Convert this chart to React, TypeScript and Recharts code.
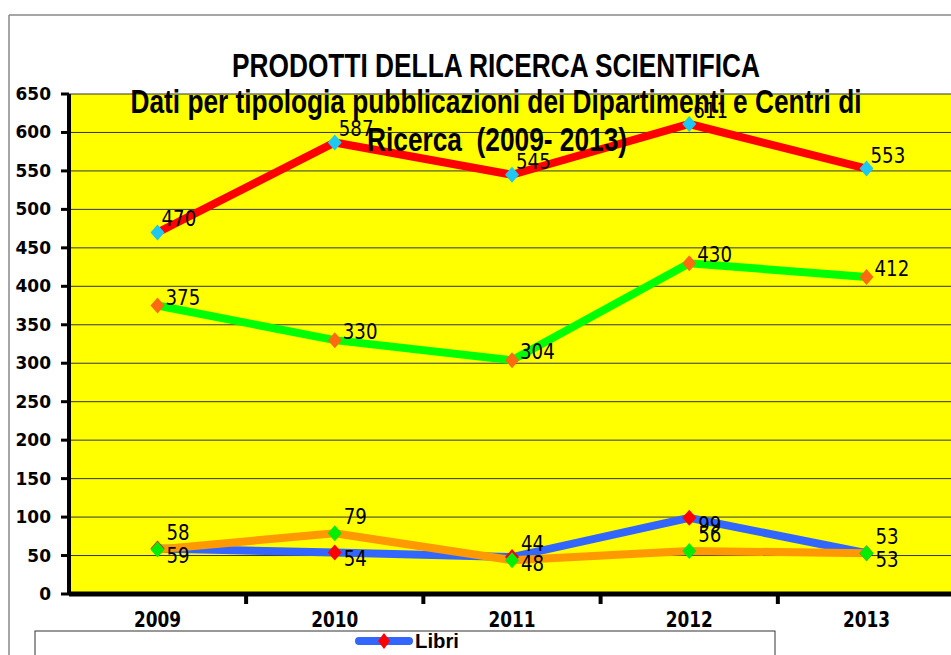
import React from 'react';
import { LineChart, Line, XAxis, YAxis, CartesianGrid, Tooltip, LabelList } from 'recharts';

const years = ['2009', '2010', '2011', '2012', '2013'];
const articoli = [470, 587, 545, 611, 553];
const contributi = [375, 330, 304, 430, 412];
const libri = [59, 54, 48, 99, 53];
const atti = [58, 79, 44, 56, 53];
const yTicks = [0, 50, 100, 150, 200, 250, 300, 350, 400, 450, 500, 550, 600, 650];

const data = years.map((year, i) => ({
  year,
  articoli: articoli[i],
  contributi: contributi[i],
  libri: libri[i],
  atti: atti[i],
}));

const HALF_STEP = 88.6;

const diamond = (fill: string) => (props: any) => {
  const { cx, cy, index } = props;
  if (cx == null || cy == null) return <g key={index} />;
  return (
    <polygon
      key={index}
      points={`${cx},${cy - 8} ${cx + 7},${cy} ${cx},${cy + 8} ${cx - 7},${cy}`}
      fill={fill}
    />
  );
};

const valueLabel = (dx: number, dy: number) => (props: any) => {
  const x = props.x ?? props.viewBox?.x;
  const y = props.y ?? props.viewBox?.y;
  if (x == null || y == null) return null;
  return (
    <text
      key={props.index}
      x={x + dx}
      y={y + dy + 8}
      fontSize={22}
      fontFamily="DejaVu Sans Condensed"
      fill="#000"
      transform={`translate(${x + dx} ${y + dy}) scale(0.92 1) translate(${-(x + dx)} ${-(y + dy)})`}
    >
      {props.value}
    </text>
  );
};

const YearTick = (props: any) => {
  const { x, y, payload, index } = props;
  return (
    <g>
      <text
        x={x}
        y={y + 33}
        textAnchor="middle"
        fontFamily="DejaVu Sans Condensed"
        fontWeight="bold"
        fontSize={22}
        textLength={47}
        lengthAdjust="spacingAndGlyphs"
        fill="#000"
      >
        {payload.value}
      </text>
      {index < years.length - 1 && (
        <line x1={x + HALF_STEP} x2={x + HALF_STEP} y1={y} y2={y + 10} stroke="#000" strokeWidth={4} />
      )}
    </g>
  );
};

export default function App() {
  return (
    <div style={{ position: 'fixed', left: 0, top: 0, width: 951, height: 655, overflow: 'hidden', background: '#fff' }}>
      <LineChart width={960} height={655} data={data} margin={{ top: 94, right: 5, left: 0, bottom: 21 }}>
        <CartesianGrid vertical={false} stroke="#333" fill="#FFFF00" />
        <XAxis
          dataKey="year"
          padding={{ left: 88.5, right: 88.5 }}
          height={40}
          tickSize={0}
          tickMargin={0}
          tick={<YearTick />}
          axisLine={{ stroke: '#000', strokeWidth: 5 }}
        />
        <YAxis
          domain={[0, 650]}
          ticks={yTicks}
          width={69}
          interval={0}
          tickSize={8}
          tickMargin={10}
          axisLine={{ stroke: '#000', strokeWidth: 4 }}
          tickLine={{ stroke: '#000', strokeWidth: 3 }}
          tick={{ fontFamily: 'DejaVu Sans', fontWeight: 'bold', fontSize: 17, fill: '#000' }}
        />
        <Tooltip />
        <Line
          dataKey="articoli"
          name="Articoli su rivista"
          stroke="#FF0000"
          strokeWidth={8}
          dot={diamond('#1EC8F0')}
          isAnimationActive={false}
        >
          <LabelList dataKey="articoli" content={valueLabel(4, -14)} />
        </Line>
        <Line
          dataKey="contributi"
          name="Contributi in volume"
          stroke="#00FF00"
          strokeWidth={8}
          dot={diamond('#FF6A10')}
          isAnimationActive={false}
        >
          <LabelList dataKey="contributi" content={valueLabel(8, -9)} />
        </Line>
        <Line
          dataKey="libri"
          name="Libri"
          stroke="#3366FF"
          strokeWidth={8}
          dot={diamond('#FF0000')}
          isAnimationActive={false}
        >
          <LabelList dataKey="libri" content={valueLabel(9, 6)} />
        </Line>
        <Line
          dataKey="atti"
          name="Atti di convegno"
          stroke="#FF9900"
          strokeWidth={8}
          dot={diamond('#00EE00')}
          isAnimationActive={false}
        >
          <LabelList dataKey="atti" content={valueLabel(9, -17)} />
        </Line>
      </LineChart>
      <svg
        width={951}
        height={655}
        style={{ position: 'absolute', left: 0, top: 0, pointerEvents: 'none' }}
      >
        <line x1={9} y1={15} x2={951} y2={15} stroke="#888" strokeWidth={1.5} />
        <line x1={9} y1={15} x2={9} y2={655} stroke="#888" strokeWidth={1.5} />
        <g fontFamily="Liberation Sans" fontWeight="bold" fill="#000" textAnchor="middle">
          <text x={496} y={77} fontSize={33} textLength={528} lengthAdjust="spacingAndGlyphs">
            PRODOTTI DELLA RICERCA SCIENTIFICA
          </text>
          <text x={496} y={113} fontSize={33} textLength={731} lengthAdjust="spacingAndGlyphs">
            Dati per tipologia pubblicazioni dei Dipartimenti e Centri di
          </text>
          <text x={497} y={151} fontSize={33} textLength={260} lengthAdjust="spacingAndGlyphs">
            {'Ricerca\u00A0 (2009- 2013)'}
          </text>
        </g>
        <rect x={35} y={631} width={740} height={60} fill="#fff" stroke="#333" strokeWidth={1} />
        <line x1={359} y1={641} x2={409} y2={641} stroke="#3366FF" strokeWidth={8} strokeLinecap="round" />
        <polygon points="384,633 390,641 384,649 378,641" fill="#FF0000" />
        <text
          x={415}
          y={648}
          fontFamily="Liberation Sans"
          fontWeight="bold"
          fontSize={21}
          textLength={44}
          lengthAdjust="spacingAndGlyphs"
          fill="#000"
        >
          Libri
        </text>
      </svg>
    </div>
  );
}
